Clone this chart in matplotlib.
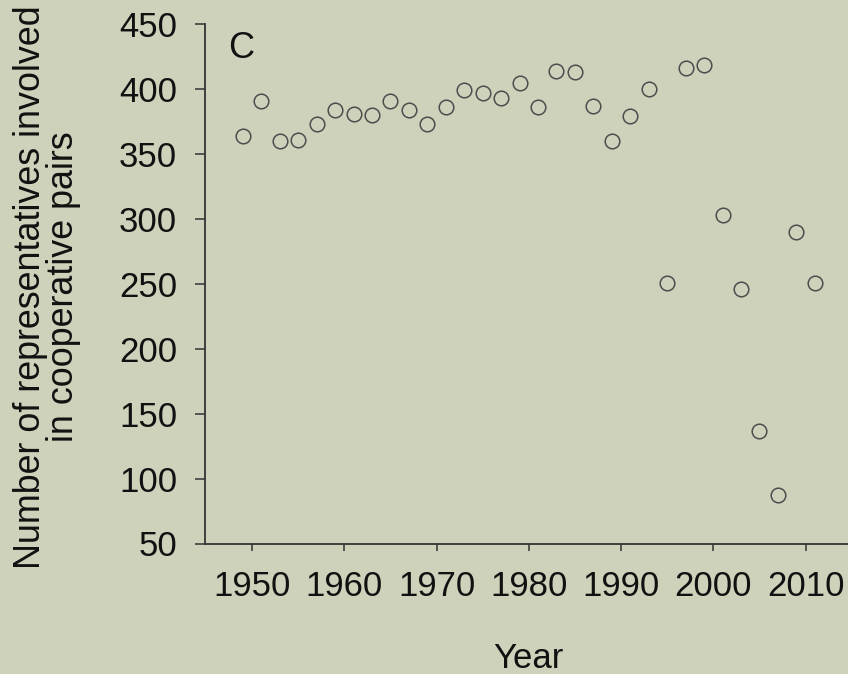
import matplotlib
matplotlib.use("Agg")
import matplotlib.pyplot as plt

years = [1949, 1951, 1953, 1955, 1957, 1959, 1961, 1963, 1965, 1967,
         1969, 1971, 1973, 1975, 1977, 1979, 1981, 1983, 1985, 1987,
         1989, 1991, 1993, 1995, 1997, 1999, 2001, 2003, 2005, 2007,
         2009, 2011]
reps = [364, 391, 360, 361, 373, 384, 381, 380, 391, 384,
        373, 386, 399, 397, 393, 405, 386, 414, 413, 387,
        360, 379, 400, 251, 416, 419, 303, 246, 137, 87,
        290, 251]
xticks = [1950, 1960, 1970, 1980, 1990, 2000, 2010]
yticks = [50, 100, 150, 200, 250, 300, 350, 400, 450]

bg = "#ced2bb"
plt.rcParams['font.family'] = ['Liberation Sans', 'DejaVu Sans']

fig = plt.figure(figsize=(8.48, 6.74), dpi=100, facecolor=bg)
ax = fig.add_axes([205/848, 1-543.5/674, (848-205)/848, (543.5-24.3)/674])
ax.set_facecolor(bg)

ax.plot(years, reps, linestyle='none', marker='o', markersize=10.5,
        markerfacecolor='none', markeredgecolor='#4d4d4d', markeredgewidth=1.1,
        clip_on=False)

ax.set_xlim(1944.9, 2014.6)
ax.set_ylim(50, 450)
ax.set_xticks(xticks)
ax.set_yticks(yticks)
ax.set_xticklabels([str(t) for t in xticks])
ax.set_yticklabels([str(t) for t in yticks])

for s in ['top', 'right']:
    ax.spines[s].set_visible(False)
for s in ['left', 'bottom']:
    ax.spines[s].set_color('#333333')
    ax.spines[s].set_linewidth(1.3)

ax.tick_params(axis='both', direction='out', width=1.1, color='#333333',
               labelsize=25, labelcolor='#111111')
ax.tick_params(axis='y', length=7, pad=13)
ax.tick_params(axis='x', length=5, pad=14)

ax.text(228/848, 1-31/674, 'C', transform=fig.transFigure, fontsize=26,
        color='#111111', va='top', ha='left')

fig.text(47/848, 1-287/674, 'Number of representatives involved\nin cooperative pairs',
         rotation=90, ha='center', va='center', fontsize=25.8, color='#111111',
         linespacing=0.95)
fig.text(528/848, 1-658/674, 'Year', ha='center', va='center', fontsize=25,
         color='#111111')

fig.savefig('out.png', dpi=100, facecolor=bg)
